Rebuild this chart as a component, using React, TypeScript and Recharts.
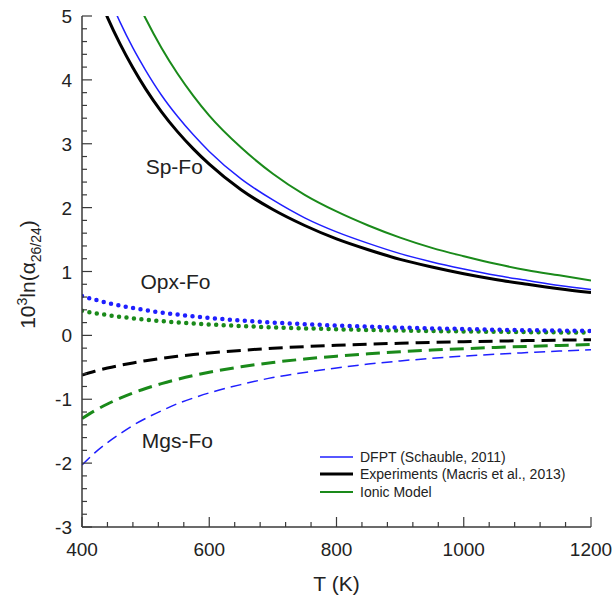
import React from 'react';
import { LineChart, Line, XAxis, YAxis, ReferenceDot, Legend } from 'recharts';

const FONT = '"Liberation Sans", Arial, Helvetica, sans-serif';
const AX = '#3a3a3a';
const BLUE = '#1f1fff';
const BLACK = '#000000';
const GREEN = '#1a8a1a';

// Temperatures (K)
const temps = [400, 420, 440, 460, 480, 500, 525, 550, 575, 600, 650, 700, 750, 800, 850, 900, 950, 1000, 1050, 1100, 1150, 1200];

// Sp-Fo (solid)
const spDfpt = [6.48, 5.88, 5.36, 4.9, 4.5, 4.15, 3.76, 3.43, 3.14, 2.88, 2.45, 2.12, 1.84, 1.62, 1.44, 1.28, 1.15, 1.04, 0.94, 0.86, 0.78, 0.72];
const spExp = [6.03, 5.47, 4.98, 4.56, 4.19, 3.86, 3.5, 3.19, 2.92, 2.68, 2.28, 1.97, 1.72, 1.51, 1.34, 1.19, 1.07, 0.965, 0.875, 0.8, 0.73, 0.67];
const spIonic = [7.75, 7.03, 6.4, 5.86, 5.38, 4.96, 4.5, 4.1, 3.75, 3.44, 2.94, 2.53, 2.2, 1.94, 1.72, 1.53, 1.37, 1.24, 1.12, 1.02, 0.94, 0.86];

// Opx-Fo (dotted)
const opxDfpt = [0.616, 0.559, 0.509, 0.466, 0.428, 0.394, 0.358, 0.326, 0.298, 0.274, 0.233, 0.201, 0.175, 0.154, 0.136, 0.122, 0.109, 0.099, 0.089, 0.081, 0.075, 0.07];
const opxIonic = [0.385, 0.349, 0.318, 0.291, 0.267, 0.246, 0.223, 0.204, 0.186, 0.171, 0.146, 0.126, 0.11, 0.096, 0.085, 0.076, 0.068, 0.062, 0.056, 0.051, 0.047, 0.045];

// Mgs-Fo (dashed)
const mgsDfpt = [-2.03, -1.84, -1.68, -1.54, -1.41, -1.3, -1.18, -1.07, -0.98, -0.9, -0.77, -0.66, -0.58, -0.51, -0.45, -0.4, -0.36, -0.325, -0.295, -0.27, -0.246, -0.226];
const mgsExp = [-0.62, -0.562, -0.512, -0.469, -0.431, -0.397, -0.36, -0.328, -0.3, -0.276, -0.235, -0.202, -0.176, -0.155, -0.137, -0.123, -0.11, -0.099, -0.09, -0.082, -0.075, -0.069];
const mgsIonic = [-1.3, -1.18, -1.074, -0.983, -0.903, -0.832, -0.755, -0.688, -0.629, -0.578, -0.492, -0.424, -0.37, -0.325, -0.288, -0.257, -0.23, -0.208, -0.189, -0.172, -0.157, -0.144];

// Axis ticks
const xMajor = [400, 600, 800, 1000, 1200];
const xTicks: number[] = [];
for (let t = 400; t <= 1200; t += 40) xTicks.push(t);
const yMajor = [-3, -2, -1, 0, 1, 2, 3, 4, 5];
const yTicks: number[] = [];
for (let i = 0; i <= 40; i++) yTicks.push(Math.round((-3 + i * 0.2) * 10) / 10);

const legendItems = [
  { name: 'DFPT (Schauble, 2011)', color: BLUE, width: 1.5 },
  { name: 'Experiments (Macris et al., 2013)', color: BLACK, width: 3 },
  { name: 'Ionic Model', color: GREEN, width: 2 },
];

const mk = (vals: number[]) => temps.map((T, i) => ({ T, v: vals[i] }));

const isXMajor = (v: number) => xMajor.includes(Math.round(v));
const isYMajor = (v: number) => yMajor.some((m) => Math.abs(v - m) < 1e-6);

function BottomTick(props: any) {
  const { x, y, payload } = props;
  const major = isXMajor(payload.value);
  return (
    <g>
      <line x1={x} x2={x} y1={y} y2={y - (major ? 10 : 5)} stroke={AX} strokeWidth={1.2} />
      {major && (
        <text x={x} y={y + 29} textAnchor="middle" fontSize={19} fontFamily={FONT} fill="#222">
          {Math.round(payload.value)}
        </text>
      )}
    </g>
  );
}

function TopTick(props: any) {
  const { x, y, payload } = props;
  const major = isXMajor(payload.value);
  return <line x1={x} x2={x} y1={y} y2={y + (major ? 10 : 5)} stroke={AX} strokeWidth={1.2} />;
}

function LeftTick(props: any) {
  const { x, y, payload } = props;
  const major = isYMajor(payload.value);
  return (
    <g>
      <line x1={x} x2={x + (major ? 10 : 5)} y1={y} y2={y} stroke={AX} strokeWidth={1.2} />
      {major && (
        <text x={x - 10} y={y + 7} textAnchor="end" fontSize={19} fontFamily={FONT} fill="#222">
          {Math.round(payload.value)}
        </text>
      )}
    </g>
  );
}

function RightTick(props: any) {
  const { x, y, payload } = props;
  const major = isYMajor(payload.value);
  return <line x1={x} x2={x - (major ? 10 : 5)} y1={y} y2={y} stroke={AX} strokeWidth={1.2} />;
}

function XTitle(props: any) {
  const vb = props.viewBox || { x: 82, width: 509 };
  return (
    <text x={vb.x + vb.width / 2} y={591} textAnchor="middle" fontSize={21} fontFamily={FONT} fill="#222">
      T (K)
    </text>
  );
}

function YTitle(props: any) {
  const vb = props.viewBox || { y: 16, height: 511 };
  const cy = vb.y + vb.height / 2 + 3;
  const cx = 35;
  return (
    <text
      x={cx}
      y={cy}
      transform={`rotate(-90 ${cx} ${cy})`}
      textAnchor="middle"
      fontSize={21}
      fontFamily={FONT}
      fill="#222"
    >
      10
      <tspan dy={-8} fontSize={14}>3</tspan>
      <tspan dy={8}>ln(α</tspan>
      <tspan dy={6} fontSize={14}>26/24</tspan>
      <tspan dy={-6}>)</tspan>
    </text>
  );
}

function LegendBox() {
  return (
    <div style={{ fontFamily: FONT, fontSize: 14, color: '#222' }}>
      {legendItems.map((it) => (
        <div key={it.name} style={{ display: 'flex', alignItems: 'center', height: 17.5, whiteSpace: 'nowrap' }}>
          <svg width={40} height={10} style={{ flex: 'none' }}>
            <line x1={0} x2={33} y1={5} y2={5} stroke={it.color} strokeWidth={it.width} />
          </svg>
          <span>{it.name}</span>
        </div>
      ))}
    </div>
  );
}

const lineCommon = {
  xAxisId: 'b',
  yAxisId: 'l',
  dataKey: 'v',
  type: 'monotone' as const,
  dot: false,
  activeDot: false,
  isAnimationActive: false,
  legendType: 'none' as const,
};

export default function App() {
  return (
    <div style={{ position: 'absolute', left: 0, top: 0, width: 616, height: 600, background: '#fff' }}>
      <LineChart width={616} height={600} margin={{ top: 16, right: 25, bottom: 0, left: 0 }}>
        <XAxis
          xAxisId="b"
          dataKey="T"
          type="number"
          domain={[400, 1200]}
          allowDataOverflow
          ticks={xTicks}
          interval={0}
          height={73}
          tickSize={0}
          tickMargin={0}
          tick={<BottomTick />}
          axisLine={{ stroke: AX, strokeWidth: 1.5 }}
          tickLine={false}
          label={(p: any) => <XTitle {...p} />}
        />
        <XAxis
          xAxisId="t"
          orientation="top"
          dataKey="T"
          type="number"
          domain={[400, 1200]}
          allowDataOverflow
          ticks={xTicks}
          interval={0}
          height={0}
          tickSize={0}
          tickMargin={0}
          tick={<TopTick />}
          axisLine={{ stroke: AX, strokeWidth: 1.5 }}
          tickLine={false}
        />
        <YAxis
          yAxisId="l"
          type="number"
          domain={[-3, 5]}
          allowDataOverflow
          ticks={yTicks}
          interval={0}
          width={82}
          tickSize={0}
          tickMargin={0}
          tick={<LeftTick />}
          axisLine={{ stroke: AX, strokeWidth: 1.5 }}
          tickLine={false}
          label={(p: any) => <YTitle {...p} />}
        />
        <YAxis
          yAxisId="r"
          orientation="right"
          type="number"
          domain={[-3, 5]}
          allowDataOverflow
          ticks={yTicks}
          interval={0}
          width={0}
          tickSize={0}
          tickMargin={0}
          tick={<RightTick />}
          axisLine={{ stroke: AX, strokeWidth: 1.5 }}
          tickLine={false}
        />

        <Line {...lineCommon} data={mk(spIonic)} stroke={GREEN} strokeWidth={2} />
        <Line {...lineCommon} data={mk(spDfpt)} stroke={BLUE} strokeWidth={1.5} />
        <Line {...lineCommon} data={mk(spExp)} stroke={BLACK} strokeWidth={3} />

        <Line {...lineCommon} data={mk(opxIonic)} stroke={GREEN} strokeWidth={4.5} strokeDasharray="0 7.5" strokeLinecap="round" />
        <Line {...lineCommon} data={mk(opxDfpt)} stroke={BLUE} strokeWidth={4.5} strokeDasharray="0 7.5" strokeLinecap="round" />

        <Line {...lineCommon} data={mk(mgsDfpt)} stroke={BLUE} strokeWidth={1.5} strokeDasharray="11 6" />
        <Line {...lineCommon} data={mk(mgsIonic)} stroke={GREEN} strokeWidth={3} strokeDasharray="14 7" />
        <Line {...lineCommon} data={mk(mgsExp)} stroke={BLACK} strokeWidth={3} strokeDasharray="14 7" />

        <ReferenceDot xAxisId="b" yAxisId="l" x={545} y={2.64} r={0} stroke="none" fill="none"
          label={{ value: 'Sp-Fo', position: 'center', fontSize: 21, fontFamily: FONT, fill: '#222' }} />
        <ReferenceDot xAxisId="b" yAxisId="l" x={547} y={0.85} r={0} stroke="none" fill="none"
          label={{ value: 'Opx-Fo', position: 'center', fontSize: 21, fontFamily: FONT, fill: '#222' }} />
        <ReferenceDot xAxisId="b" yAxisId="l" x={550} y={-1.64} r={0} stroke="none" fill="none"
          label={{ value: 'Mgs-Fo', position: 'center', fontSize: 21, fontFamily: FONT, fill: '#222' }} />

        <Legend
          layout="vertical"
          align="center"
          verticalAlign="middle"
          content={() => <LegendBox />}
          wrapperStyle={{ position: 'absolute', left: 320, top: 448, width: 290, height: 56 }}
        />
      </LineChart>
    </div>
  );
}
